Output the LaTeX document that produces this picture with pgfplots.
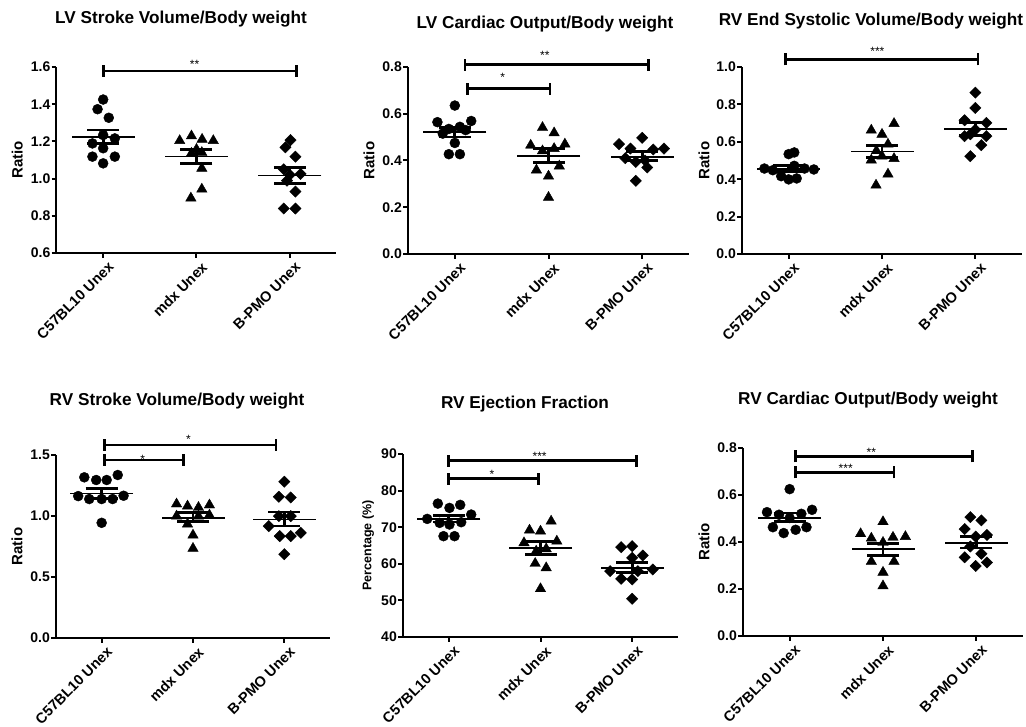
\documentclass[border=0pt]{standalone}
\usepackage{pgfplots}
\pgfplotsset{compat=1.18}
\usepackage{fontspec}
\setmainfont{Liberation Sans}
\newcommand{\lab}{\bfseries\fontsize{14}{16}\selectfont}
\newcommand{\xlab}{\bfseries\fontsize{14.5}{16}\selectfont}
\newcommand{\ylab}{\bfseries\fontsize{15}{17}\selectfont}
\newcommand{\ttl}{\bfseries\fontsize{17.2}{20}\selectfont}
\newcommand{\starf}{\fontsize{12}{14}\selectfont}
\pgfplotsset{
  gp/.style={scale only axis, axis x line=bottom, axis y line=left,
    axis line style={-, line width=2pt}, tick style={line width=2pt, black},
    major tick length=5pt, tick align=outside, xtick={0,1,2},
    xticklabels={C57BL10 Unex, mdx Unex, B-PMO Unex},
    xmin=-0.5, xmax=2.5, clip=false,
    x tick label style={rotate=45, anchor=north east, font=\xlab, inner sep=1pt, yshift=-4pt, xshift=2pt},
    y tick label style={font=\lab, inner sep=1pt},
    /pgf/number format/assume math mode=true,
    ylabel style={font=\ylab, anchor=center},
    minor tick num=0},
  dec/.style={yticklabel style={/pgf/number format/.cd, fixed, fixed zerofill, precision=1}},
  circ/.style={only marks, mark=*, mark size=5pt, black},
  tri/.style={only marks, mark=triangle*, mark size=6pt, black},
  dia/.style={only marks, mark=square*, mark size=4pt, mark options={rotate=45}, black},
  msem/.style={only marks, mark=-, mark size=31.5pt, line width=1.7pt, black,
    error bars/.cd, y dir=both, y explicit, error mark=|,
    error mark options={line width=2.7pt, mark size=16pt},
    error bar style={line width=2.7pt}},
  brk/.style={black, line width=2.7pt, unbounded coords=jump, mark=none},
}
\begin{document}
\begin{tikzpicture}
\useasboundingbox (0pt,0pt) rectangle (1026pt,727pt);
% titles
\node[font=\ttl, anchor=base] at (181pt,703pt) {LV Stroke Volume/Body weight};
\node[font=\ttl, anchor=base] at (545pt,698pt) {LV Cardiac Output/Body weight};
\node[font=\ttl, anchor=base] at (871pt,701pt) {RV End Systolic Volume/Body weight};
\node[font=\ttl, anchor=base] at (177pt,321pt) {RV Stroke Volume/Body weight};
\node[font=\ttl, anchor=base] at (525pt,318pt) {RV Ejection Fraction};
\node[font=\ttl, anchor=base] at (868pt,322pt) {RV Cardiac Output/Body weight};

% Panel 1
\begin{axis}[gp, dec, at={(56.5pt,474pt)}, width=280pt, height=186pt,
  ymin=0.6, ymax=1.6, ytick={0.6,0.8,...,1.61}, ylabel={Ratio},
  ylabel style={at={(axis description cs:-0.14,0.5)}}]
\addplot[circ] coordinates {(0,1.425) (-0.06,1.373) (0.06,1.327) (0,1.234) (0.125,1.216) (-0.115,1.189) (0,1.163) (-0.115,1.118) (0.125,1.118) (0,1.082)};
\addplot[tri] coordinates {(0.82,1.204) (0.946,1.229) (1.06,1.211) (1.18,1.204) (1,1.157) (0.946,1.136) (1.057,1.14) (1.057,1.055) (1.057,0.943) (0.94,0.895)};
\addplot[dia] coordinates {(2.007,1.207) (1.953,1.168) (2.06,1.118) (1.935,1.05) (2.115,1.025) (2,1.02) (1.97,0.989) (2.06,0.93) (1.935,0.839) (2.06,0.839)};
\addplot[msem] coordinates {(0,1.225) += (0,0.037) -= (0,0.036) (1,1.118) += (0,0.039) -= (0,0.036) (2,1.016) += (0,0.045) -= (0,0.041)};
\addplot[brk] coordinates {(0,1.547) (0,1.611) (nan,nan) (0,1.579) (2.07,1.579) (nan,nan) (2.07,1.547) (2.07,1.611)};
\node[font=\starf, anchor=base, yshift=-7pt] at (axis cs:0.98,1.63) {**};
\end{axis}

% Panel 2
\begin{axis}[gp, dec, at={(408pt,473pt)}, width=281pt, height=187pt,
  ymin=0, ymax=0.8, ytick={0,0.2,...,0.81}, ylabel={Ratio},
  ylabel style={at={(axis description cs:-0.139,0.5)}}]
\addplot[circ] coordinates {(0,0.635) (-0.186,0.564) (0.175,0.569) (-0.064,0.535) (0.054,0.544) (-0.129,0.515) (0.115,0.53) (0,0.475) (-0.064,0.427) (0.054,0.427)};
\addplot[tri] coordinates {(0.936,0.541) (1.06,0.518) (0.81,0.465) (1.175,0.47) (0.936,0.441) (1.06,0.451) (0.871,0.359) (1.115,0.376) (1,0.333) (1,0.242)};
\addplot[dia] coordinates {(1.753,0.47) (2,0.497) (1.875,0.451) (2.118,0.447) (2.233,0.451) (2.03,0.40) (1.932,0.394) (2.054,0.37) (1.932,0.313) (1.82,0.41)};
\addplot[msem] coordinates {(0,0.522) += (0,0.019) -= (0,0.021) (1,0.42) += (0,0.031) -= (0,0.029) (2,0.416) += (0,0.021) -= (0,0.017)};
\addplot[brk] coordinates {(0.107,0.784) (0.107,0.836) (nan,nan) (0.107,0.81) (2.064,0.81) (nan,nan) (2.064,0.784) (2.064,0.836)};
\addplot[brk] coordinates {(0.132,0.682) (0.132,0.733) (nan,nan) (0.132,0.7075) (1.016,0.7075) (nan,nan) (1.016,0.682) (1.016,0.733)};
\node[font=\starf, anchor=base, yshift=-7pt] at (axis cs:0.96,0.86) {**};
\node[font=\starf, anchor=base, yshift=-7pt] at (axis cs:0.51,0.77) {*};
\end{axis}

% Panel 3
\begin{axis}[gp, dec, at={(742pt,473pt)}, width=280pt, height=187pt,
  ymin=0, ymax=1.0, ytick={0,0.2,...,1.01}, ylabel={Ratio},
  ylabel style={at={(axis description cs:-0.136,0.5)}}]
\addplot[circ] coordinates {(0,0.534) (0.06,0.543) (-0.26,0.457) (-0.17,0.448) (0.06,0.4715) (0.17,0.457) (0.27,0.452) (-0.08,0.416) (0,0.399) (0.086,0.404)};
\addplot[tri] coordinates {(0.885,0.662) (1.129,0.6975) (1,0.64) (1.064,0.587) (0.94,0.552) (0.885,0.502) (1,0.523) (1.129,0.51) (1.064,0.427) (0.936,0.368)};
\addplot[dia] coordinates {(2,0.863) (2,0.781) (1.885,0.715) (2.118,0.701) (2,0.665) (1.946,0.64) (1.885,0.63) (2.118,0.63) (2.064,0.582) (1.946,0.523)};
\addplot[msem] coordinates {(0,0.4555) += (0,0.016) -= (0,0.0155) (1,0.548) += (0,0.034) -= (0,0.032) (2,0.669) += (0,0.034) -= (0,0.036)};
\addplot[brk] coordinates {(-0.036,1.009) (-0.036,1.073) (nan,nan) (-0.036,1.041) (2.03,1.041) (nan,nan) (2.03,1.009) (2.03,1.073)};
\node[font=\starf, anchor=base, yshift=-7pt] at (axis cs:0.95,1.10) {***};
\end{axis}

% Panel 4
\begin{axis}[gp, dec, at={(56pt,89pt)}, width=274pt, height=183pt,
  ymin=0, ymax=1.5, ytick={0,0.5,...,1.51}, ylabel={Ratio},
  ylabel style={at={(axis description cs:-0.142,0.5)}}]
\addplot[circ] coordinates {(-0.19,1.317) (-0.06,1.295) (0.055,1.295) (0.176,1.336) (-0.257,1.163) (-0.136,1.139) (0,1.139) (0.12,1.139) (0.24,1.166) (0,0.944)};
\addplot[tri] coordinates {(0.82,1.098) (0.94,1.081) (1.06,1.07) (1.18,1.09) (0.82,0.999) (0.94,0.933) (1.06,0.999) (1.18,1.007) (1,0.843) (1,0.734)};
\addplot[dia] coordinates {(2,1.281) (1.94,1.158) (2.07,1.152) (1.94,0.999) (2.07,0.999) (1.83,0.917) (2.18,0.862) (1.95,0.835) (2.07,0.835) (2,0.687)};
\addplot[msem] coordinates {(0,1.185) += (0,0.041) -= (0,0.041) (1,0.985) += (0,0.042) -= (0,0.032) (2,0.972) += (0,0.06) -= (0,0.055)};
\addplot[brk] coordinates {(0.03,1.533) (0.03,1.631) (nan,nan) (0.03,1.582) (1.908,1.582) (nan,nan) (1.908,1.533) (1.908,1.631)};
\addplot[brk] coordinates {(0.03,1.41) (0.03,1.508) (nan,nan) (0.03,1.459) (0.893,1.459) (nan,nan) (0.893,1.41) (0.893,1.508)};
\node[font=\starf, anchor=base, yshift=-7pt] at (axis cs:0.95,1.65) {*};
\node[font=\starf, anchor=base, yshift=-7pt] at (axis cs:0.45,1.49) {*};
\end{axis}

% Panel 5
\begin{axis}[gp, at={(403pt,90pt)}, width=275pt, height=183pt,
  ymin=40, ymax=90, ytick={40,50,...,90}, ylabel={Percentage (\%)},
  ylabel style={at={(axis description cs:-0.127,0.5)}, font=\bfseries\fontsize{12.5}{15}\selectfont}]
\addplot[circ] coordinates {(-0.12,76.45) (0.007,75.27) (0.124,76.1) (-0.236,72.27) (0.244,73.45) (-0.1,71.18) (0.007,70.73) (0.135,71.36) (-0.058,67.55) (0.062,67.55)};
\addplot[tri] coordinates {(0.88,69.18) (1,68.9) (1.116,71.64) (0.82,65.73) (1.178,66.18) (0.953,63.45) (1.062,64.09) (0.942,60.09) (1.062,58.9) (1,53.18)};
\addplot[dia] coordinates {(1.88,64.55) (2,64.82) (2,61.64) (2.116,62.27) (1.76,58.0) (2.225,58.45) (2.062,58.0) (1.88,55.9) (2,55.73) (2,50.45)};
\addplot[msem] coordinates {(0,72.27) += (0,0.91) -= (0,0.82) (1,64.36) += (0,1.73) -= (0,1.81) (2,58.91) += (0,1.36) -= (0,1.36)};
\addplot[brk] coordinates {(0,86.54) (0,89.82) (nan,nan) (0,88.18) (2.044,88.18) (nan,nan) (2.044,86.54) (2.044,89.82)};
\addplot[brk] coordinates {(0,81.63) (0,84.91) (nan,nan) (0,83.27) (0.98,83.27) (nan,nan) (0.98,81.63) (0.98,84.91)};
\node[font=\starf, anchor=base, yshift=-7pt] at (axis cs:0.99,90.0) {***};
\node[font=\starf, anchor=base, yshift=-7pt] at (axis cs:0.47,85.1) {*};
\end{axis}

% Panel 6
\begin{axis}[gp, dec, at={(743pt,91pt)}, width=280pt, height=188pt,
  ymin=0, ymax=0.8, ytick={0,0.2,...,0.81}, ylabel={Ratio},
  ylabel style={at={(axis description cs:-0.139,0.5)}}]
\addplot[circ] coordinates {(0,0.625) (-0.243,0.527) (0.24,0.537) (-0.114,0.516) (0.125,0.52) (-0.18,0.463) (-0.064,0.438) (0.064,0.452) (0.18,0.463) (0,0.502)};
\addplot[tri] coordinates {(1,0.486) (0.76,0.435) (0.875,0.416) (1.107,0.42) (1.24,0.423) (1,0.398) (0.875,0.317) (1.118,0.317) (1,0.271) (1,0.213)};
\addplot[dia] coordinates {(1.936,0.506) (2.054,0.492) (1.875,0.455) (1.993,0.423) (2.114,0.43) (1.936,0.381) (2.054,0.35) (1.875,0.335) (1.993,0.298) (2.114,0.313)};
\addplot[msem] coordinates {(0,0.503) += (0,0.02) -= (0,0.016) (1,0.369) += (0,0.026) -= (0,0.027) (2,0.395) += (0,0.028) -= (0,0.021)};
\addplot[brk] coordinates {(0.064,0.739) (0.064,0.79) (nan,nan) (0.064,0.7645) (1.957,0.7645) (nan,nan) (1.957,0.739) (1.957,0.79)};
\addplot[brk] coordinates {(0.064,0.6705) (0.064,0.7215) (nan,nan) (0.064,0.696) (1.118,0.696) (nan,nan) (1.118,0.6705) (1.118,0.7215)};
\node[font=\starf, anchor=base, yshift=-7pt] at (axis cs:0.875,0.793) {**};
\node[font=\starf, anchor=base, yshift=-7pt] at (axis cs:0.6,0.727) {***};
\end{axis}
\end{tikzpicture}
\end{document}
